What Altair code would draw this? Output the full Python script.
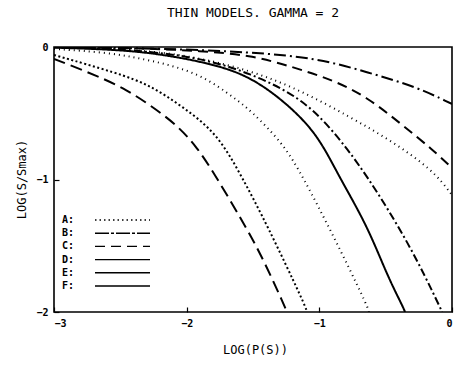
import altair as alt
import pandas as pd

# ---- curve data (log P(S), log S/Smax) ----
c1_x = [-3.0, -2.653, -2.45, -2.276, -2.073, -1.922, -1.786, -1.62, -1.447, -1.259, -1.244]
c1_y = [-0.09, -0.226, -0.325, -0.438, -0.589, -0.755, -0.966, -1.245, -1.547, -1.962, -2.0]

c2_x = [-3.0, -2.525, -2.276, -2.028, -1.771, -1.583, -1.394, -1.108, -1.093]
c2_y = [-0.06, -0.196, -0.287, -0.453, -0.649, -0.981, -1.343, -1.947, -2.0]

c3_x = [-3.0, -2.6, -2.276, -1.9, -1.621, -1.523, -1.274, -1.123, -0.897, -0.641, -0.626]
c3_y = [-0.015, -0.04, -0.098, -0.196, -0.4, -0.475, -0.725, -0.981, -1.419, -1.947, -2.0]

c4_x = [-3.0, -2.5, -2.148, -1.771, -1.523, -1.274, -1.018, -0.859, -0.641, -0.49, -0.369, -0.354]
c4_y = [-0.005, -0.02, -0.06, -0.136, -0.226, -0.4, -0.649, -0.966, -1.343, -1.721, -1.962, -2.0]

c5_x = [-3.0, -2.4, -1.9, -1.523, -1.146, -0.897, -0.641, -0.317, -0.091, -0.075]
c5_y = [0.0, -0.02, -0.08, -0.196, -0.377, -0.626, -0.966, -1.494, -1.962, -2.0]

c6_x = [-3.0, -2.4, -2.0, -1.523, -1.146, -0.769, -0.467, -0.143, 0.0]
c6_y = [0.0, -0.02, -0.06, -0.174, -0.325, -0.528, -0.702, -0.928, -1.117]

c7_x = [-3.0, -2.3, -1.9, -1.523, -1.2, -0.897, -0.641, -0.392, -0.143, 0.0]
c7_y = [0.0, -0.01, -0.03, -0.06, -0.151, -0.249, -0.377, -0.574, -0.777, -0.913]

c8_x = [-3.0, -2.2, -1.523, -1.018, -0.641, -0.264, -0.015, 0.0]
c8_y = [0.0, -0.01, -0.038, -0.083, -0.189, -0.302, -0.423, -0.43]

curve_names = ["c1", "c2", "c3", "c4", "c5", "c6", "c7", "c8"]
curve_x = [c1_x, c2_x, c3_x, c4_x, c5_x, c6_x, c7_x, c8_x]
curve_y = [c1_y, c2_y, c3_y, c4_y, c5_y, c6_y, c7_y, c8_y]
curve_dash = [[12, 6], [2, 2.5], [1, 4], [1, 0], [8, 3, 2, 3], [1, 4], [10, 6], [12, 4, 2, 4]]
curve_width = [2.0, 2.0, 1.0, 1.5, 1.3, 1.0, 1.6, 1.2]

legend_labels = ["A:", "B:", "C:", "D:", "E:", "F:"]
legend_dash = [[1.5, 3], [14, 2, 3, 2], [10, 6], [1, 0], [1, 0], [1, 0]]

x_ticks = [-3, -2, -1, 0]
y_ticks = [-2, -1, 0]

rows = []
for n, xs, ys in zip(curve_names, curve_x, curve_y):
    for i, (a, b) in enumerate(zip(xs, ys)):
        rows.append({"curve": n, "order": i, "x": a, "y": b})
df = pd.DataFrame(rows)

leg = pd.DataFrame({"label": legend_labels, "row": list(range(len(legend_labels)))})

W, H = 398, 265
FONT = "DejaVu Sans Mono"

curves = alt.Chart(df).mark_line(color="black", interpolate="basis", clip=True).encode(
    x=alt.X("x:Q", scale=alt.Scale(domain=[-3, 0], nice=False),
            axis=alt.Axis(values=x_ticks, format=".0f", title="LOG(P(S))", labelOverlap=False,
                          offset=-5, tickSize=5, domain=False, labelPadding=6,
                          titleX=201, titleY=42, titleBaseline="middle")),
    y=alt.Y("y:Q", scale=alt.Scale(domain=[-2, 0], nice=False),
            axis=alt.Axis(values=y_ticks, format=".0f", title="LOG(S/Smax)", labelOverlap=False,
                          offset=-5, tickSize=5, domain=False, labelPadding=6,
                          titleX=-38, titleY=132, titleBaseline="middle")),
    detail="curve:N",
    order="order:Q",
    strokeDash=alt.StrokeDash("curve:N", scale=alt.Scale(domain=curve_names, range=curve_dash), legend=None),
    strokeWidth=alt.StrokeWidth("curve:N", scale=alt.Scale(domain=curve_names, range=curve_width), legend=None),
)

leg_text = alt.Chart(leg).mark_text(align="left", baseline="middle", font=FONT, fontSize=10,
                                    fontWeight="bold", color="black").encode(
    x=alt.value(8),
    y=alt.Y("row:Q", scale=alt.Scale(domain=[0, 5], range=[173, 239]), axis=None),
    text="label:N",
)
leg_lines = alt.Chart(leg).mark_rule(color="black", strokeWidth=1.4).encode(
    x=alt.value(41), x2=alt.value(96),
    y=alt.Y("row:Q", scale=alt.Scale(domain=[0, 5], range=[173, 239]), axis=None),
    strokeDash=alt.StrokeDash("label:N", scale=alt.Scale(domain=legend_labels, range=legend_dash), legend=None),
)

chart = alt.layer(curves, leg_text, leg_lines).resolve_scale(
    y="independent", strokeDash="independent"
).properties(
    width=W, height=H,
    title=alt.TitleParams("THIN MODELS. GAMMA = 2", font=FONT, fontSize=13, fontWeight="normal",
                          anchor="middle", offset=22, color="black"),
    autosize=alt.AutoSizeParams(type="none"),
    padding={"left": 54, "top": 47, "right": 6, "bottom": 56},
).configure_view(stroke="black", strokeWidth=1.6).configure_axis(
    grid=False, labelFont=FONT, labelFontSize=10, labelFontWeight="bold", labelColor="black",
    tickColor="black", tickWidth=1.2, titleFont=FONT, titleFontSize=12, titleFontWeight="normal",
    titleColor="black",
)

chart.save("out.html", embed_options={"renderer": "svg", "actions": False})
